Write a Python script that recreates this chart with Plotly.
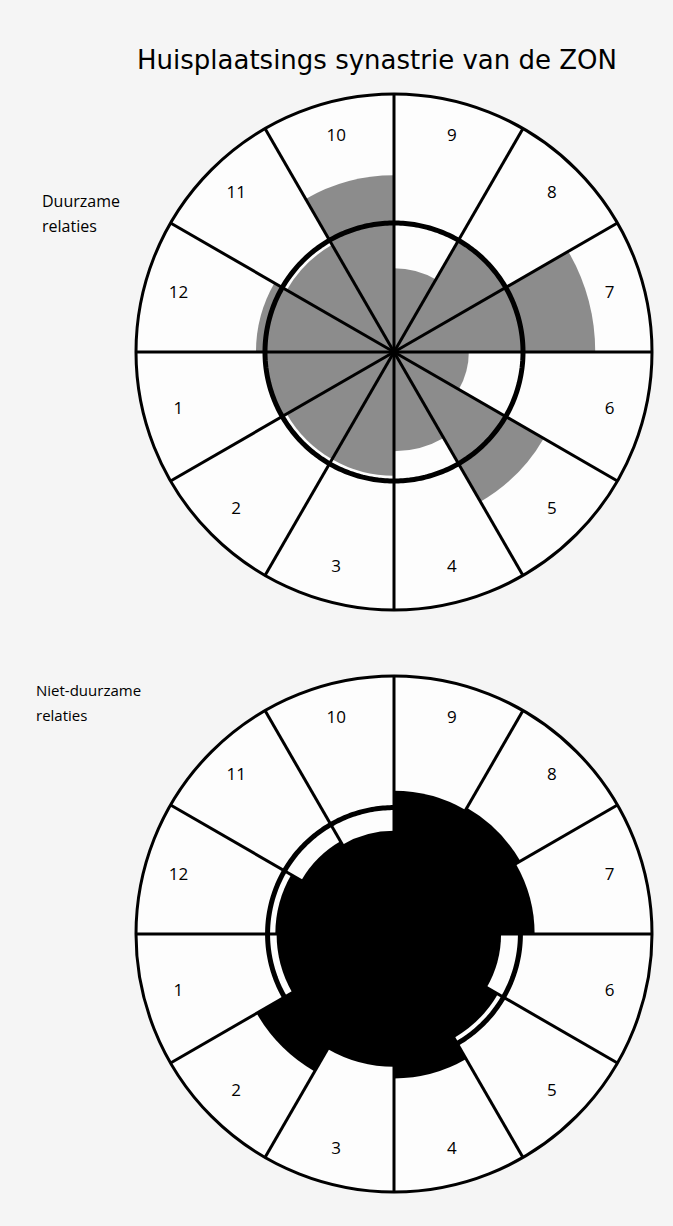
import plotly.graph_objects as go

# ---- data -------------------------------------------------------------
houses = ["1", "2", "3", "4", "5", "6", "7", "8", "9", "10", "11", "12"]
# index per house (100 = expected value, thick circle)
duurzaam = [100, 96, 96, 77, 134, 58, 156, 100, 65, 137, 96, 107]
niet_duurzaam = [91, 123, 103, 112, 93, 83, 109, 113, 111, 80, 83, 92]
expected_duurzaam = 100
expected_niet = 98
r_max = 200

title_text = "Huisplaatsings synastrie van de ZON"
label_top = ["Duurzame", "relaties"]
label_bottom = ["Niet-duurzame", "relaties"]

# ---- geometry helpers (derived from house index) -----------------------
sector = 360 / len(houses)
centers = [sector * i + sector / 2 for i in range(len(houses))]
bounds = [sector * i for i in range(len(houses))]

W, H = 673, 1226
R = 258
def dom(cx, cy):
    return dict(x=[(cx - R) / W, (cx + R) / W],
                y=[(H - cy - R) / H, (H - cy + R) / H])

fig = go.Figure()

def add_wheel(values, expected, color, polar):
    fig.add_trace(go.Barpolar(r=values, theta=centers, width=[sector] * len(values),
                              marker=dict(color=color, line=dict(width=0)),
                              subplot=polar, hoverinfo="skip", showlegend=False))
    circ_theta = list(range(0, 361))
    fig.add_trace(go.Scatterpolar(r=[expected] * len(circ_theta), theta=circ_theta,
                                  mode="lines", line=dict(color="black", width=5),
                                  subplot=polar, hoverinfo="skip", showlegend=False))
    sr, st = [], []
    for b in bounds:
        sr += [0, r_max, None]
        st += [b, b, None]
    fig.add_trace(go.Scatterpolar(r=sr, theta=st, mode="lines",
                                  line=dict(color="black", width=3),
                                  subplot=polar, hoverinfo="skip", showlegend=False,
                                  connectgaps=False))
    fig.add_trace(go.Scatterpolar(r=[r_max * 0.865] * len(houses), theta=centers,
                                  mode="text", text=houses,
                                  textfont=dict(family="Open Sans", size=17, color="black"),
                                  subplot=polar, hoverinfo="skip", showlegend=False))

add_wheel(duurzaam, expected_duurzaam, "#8c8c8c", "polar")
add_wheel(niet_duurzaam, expected_niet, "#000000", "polar2")

polar_common = dict(
    bgcolor="#fdfdfd",
    bargap=0,
    hole=0,
    radialaxis=dict(visible=False, range=[0, r_max]),
    angularaxis=dict(rotation=180, direction="counterclockwise",
                     showgrid=False, showticklabels=False, ticks="",
                     showline=True, linecolor="black", linewidth=3),
)

def ann(text, x, y, size, xanchor="left", family="Open Sans"):
    return dict(text=text, x=x / W, y=1 - y / H, xref="paper", yref="paper",
                xanchor=xanchor, yanchor="middle", showarrow=False,
                font=dict(family=family, size=size, color="black"))

fig.update_layout(
    width=W, height=H, autosize=False,
    margin=dict(l=0, r=0, t=0, b=0),
    paper_bgcolor="#f5f5f5",
    polar=dict(domain=dom(394, 352), **polar_common),
    polar2=dict(domain=dom(394, 934), **polar_common),
    annotations=[
        ann(title_text, 377, 60, 26, xanchor="center", family="DejaVu Sans"),
        ann(label_top[0], 40, 201, 16),
        ann(label_top[1], 40, 226, 16),
        ann(label_bottom[0], 34, 690, 15),
        ann(label_bottom[1], 34, 715, 15),
    ],
)

fig.write_html("out.html", config={"displayModeBar": False},
               post_script="document.body.style.margin='0';document.body.style.overflow='hidden';")
